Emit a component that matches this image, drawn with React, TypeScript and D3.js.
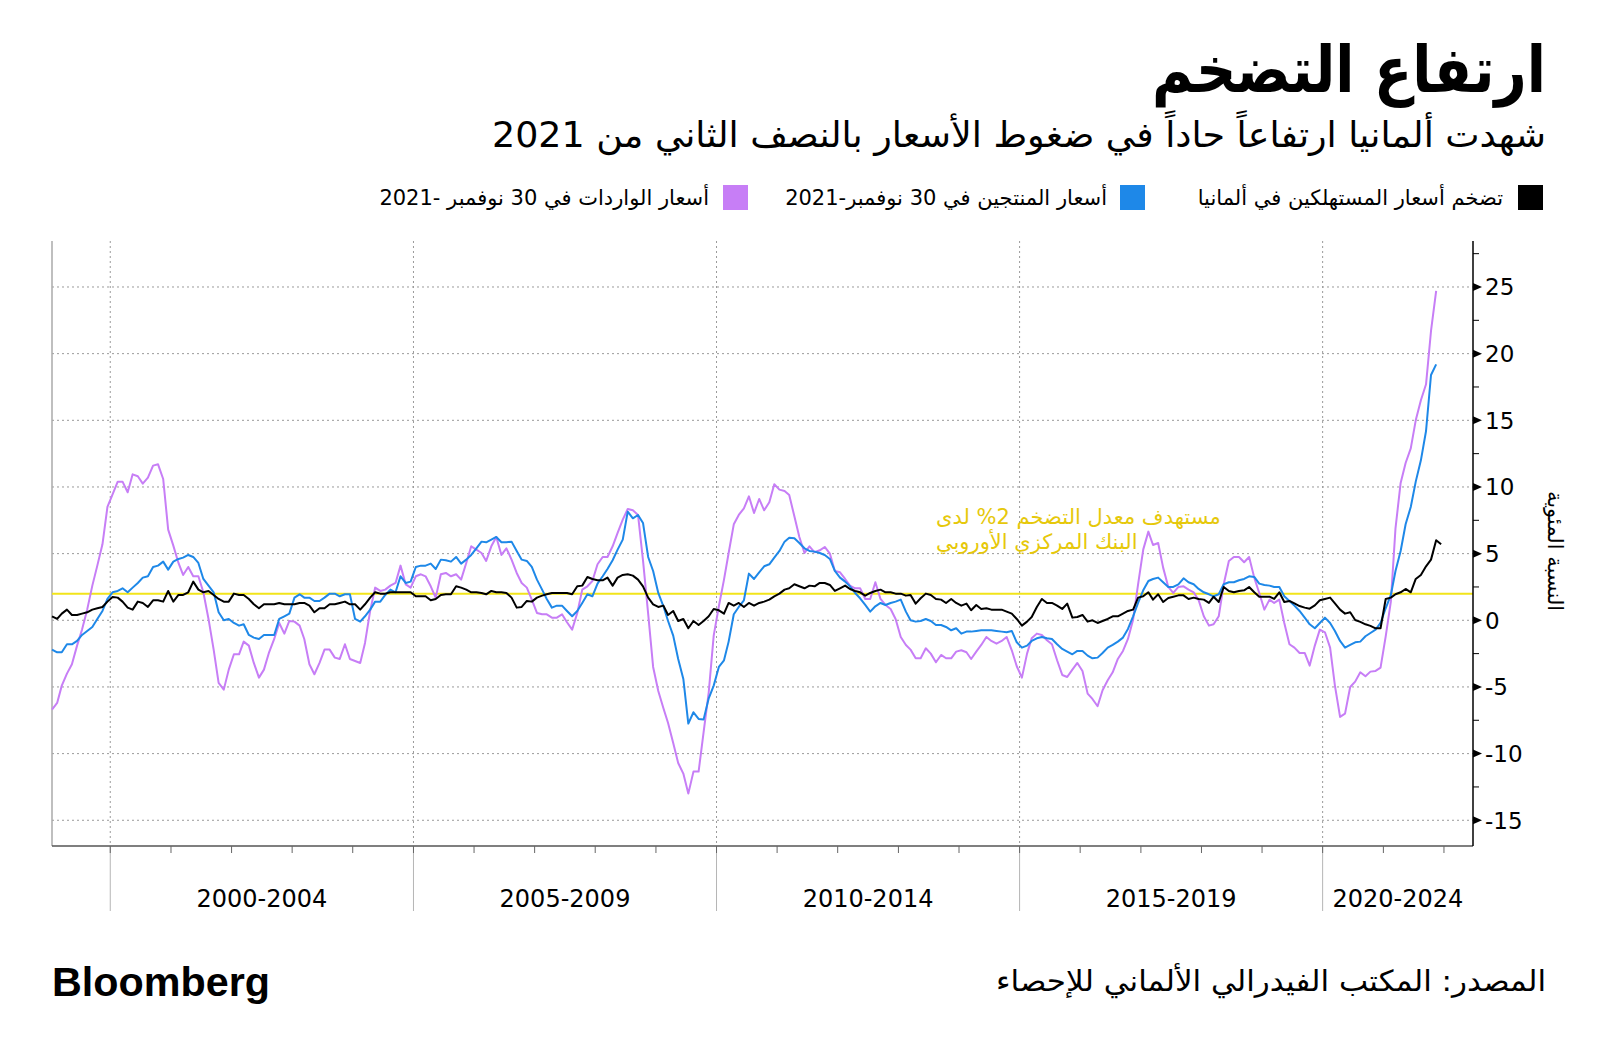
import React from 'react';
import * as d3 from 'd3';

// ---------- DATA (monthly, y/y %, starting January 1999) ----------
const START_YEAR = 1999;

// German consumer price inflation (black)
const consumerPrices = [
  0.3, 0.1, 0.5, 0.8, 0.4, 0.4, 0.5, 0.6, 0.8, 0.9, 1.0, 1.4,
  1.75, 1.7, 1.4, 0.95, 0.8, 1.4, 1.3, 1.0, 1.5, 1.5, 1.4, 2.2,
  1.4, 1.9, 1.9, 2.1, 2.9, 2.3, 2.1, 2.2, 1.9, 1.6, 1.4, 1.4,
  2.0, 1.9, 1.9, 1.6, 1.2, 0.9, 1.2, 1.2, 1.2, 1.3, 1.2, 1.2,
  1.2, 1.3, 1.3, 1.1, 0.6, 0.9, 0.9, 1.2, 1.2, 1.3, 1.4, 1.2,
  1.2, 0.8, 1.2, 1.7, 2.1, 2.0, 2.0, 2.1, 2.1, 2.1, 2.1, 2.1,
  1.8, 1.8, 1.8, 1.5, 1.6, 1.9, 1.95, 1.95, 2.55, 2.45, 2.3, 2.1,
  2.1, 2.05, 1.95, 2.2, 2.1, 2.1, 2.05, 1.7, 0.95, 1.0, 1.45, 1.4,
  1.7, 1.85, 1.95, 2.05, 2.05, 2.05, 2.05, 1.95, 2.55, 2.6, 3.25, 3.1,
  3.0, 3.0, 3.2, 2.6, 3.2, 3.4, 3.45, 3.35, 3.05, 2.55, 1.7, 1.2,
  1.0, 1.1, 0.4, 0.7, -0.05, 0.1, -0.6, -0.05, -0.35, -0.05, 0.3, 0.85,
  0.75, 0.5, 1.3, 1.1, 1.3, 1.0, 1.3, 1.1, 1.3, 1.4, 1.55, 1.8,
  2.0, 2.3, 2.4, 2.7, 2.55, 2.4, 2.6, 2.55, 2.8, 2.8, 2.65, 2.2,
  2.4, 2.6, 2.35, 2.2, 2.1, 1.85, 2.05, 2.2, 2.3, 2.1, 2.1, 2.0,
  2.0, 1.85, 1.9, 1.25, 1.65, 2.0, 1.9, 1.6, 1.55, 1.3, 1.6, 1.3,
  1.1, 1.25, 0.75, 1.15, 0.85, 0.9, 0.8, 0.8, 0.8, 0.65, 0.5, 0.1,
  -0.4, -0.1, 0.25, 1.0, 1.6, 1.3, 1.3, 1.1, 0.85, 1.25, 0.2, 0.25,
  0.4, -0.1, 0.0, -0.2, -0.05, 0.1, 0.3, 0.3, 0.5, 0.7, 0.8, 1.7,
  1.8, 2.1, 1.55, 1.95, 1.37, 1.67, 1.77, 1.87, 1.87, 1.6, 1.7, 1.6,
  1.55, 1.3, 1.77, 1.37, 2.5, 2.2, 2.1, 2.2, 2.25, 2.5, 2.1, 1.77,
  1.77, 1.77, 1.6, 2.1, 1.37, 1.45, 1.27, 1.07, 0.95, 0.87, 1.12, 1.5,
  1.6, 1.7, 1.27, 0.8, 0.5, 0.6, 0.02, -0.12, -0.3, -0.42, -0.6, -0.6,
  1.6, 1.7, 1.95, 2.1, 2.35, 2.1, 3.1, 3.4, 4.05, 4.55, 6.0, 5.7,
];

// Producer prices (blue)
const producerPrices = [
  -2.2, -2.4, -2.4, -1.8, -1.8, -1.55, -1.1, -0.8, -0.5, 0.1, 0.7, 1.6,
  2.1, 2.2, 2.4, 2.1, 2.45, 2.8, 3.2, 3.3, 4.0, 4.1, 4.4, 3.8,
  4.4, 4.6, 4.7, 4.9, 4.75, 4.3, 3.1, 2.6, 2.1, 0.6, 0.0, 0.1,
  -0.2, -0.4, -0.3, -1.1, -1.3, -1.4, -1.1, -1.1, -1.1, 0.1, 0.3, 0.5,
  1.7, 1.95, 1.7, 1.7, 1.45, 1.45, 1.7, 2.0, 2.0, 1.8, 1.95, 1.95,
  0.1, -0.1, 0.3, 0.8, 1.4, 1.4, 1.9, 2.3, 2.1, 3.3, 2.8, 2.9,
  4.0, 4.1, 4.1, 4.25, 3.85, 4.55, 4.5, 4.4, 4.75, 4.25, 4.55, 4.9,
  5.4, 5.9, 5.85, 6.05, 6.25, 5.85, 5.85, 5.9, 5.2, 4.55, 4.45, 4.0,
  3.05, 2.3, 1.6, 0.95, 1.1, 1.1, 0.7, 0.3, 0.7, 1.3, 1.95, 1.8,
  2.75, 3.3, 3.85, 4.5, 5.3, 6.05, 8.15, 7.65, 7.9, 7.3, 4.75, 3.7,
  2.05, 1.05, -0.05, -1.15, -2.9, -4.4, -7.75, -6.9, -7.4, -7.45, -5.85, -4.9,
  -3.5, -3.0, -1.6, 0.45, 1.0, 1.5, 3.5, 3.1, 3.6, 4.05, 4.2, 4.7,
  5.2, 5.9, 6.2, 6.15, 5.8, 5.4, 5.2, 5.15, 5.05, 4.9, 4.6, 3.7,
  3.2, 2.9, 2.55, 2.05, 1.65, 1.15, 0.65, 1.05, 1.3, 1.15, 1.3, 1.4,
  1.55, 0.65, 0.0, -0.1, -0.05, 0.1, -0.05, -0.35, -0.35, -0.5, -0.75, -0.6,
  -1.0, -0.85, -0.85, -0.8, -0.75, -0.75, -0.75, -0.8, -0.85, -0.9, -0.8, -1.65,
  -2.05, -1.9, -1.55, -1.35, -1.25, -1.35, -1.4, -1.8, -2.15, -2.35, -2.55, -2.3,
  -2.3, -2.65, -2.85, -2.8, -2.45, -2.05, -1.85, -1.6, -1.3, -0.65, 0.3, 1.3,
  2.25, 2.95, 3.1, 3.2, 2.85, 2.5, 2.5, 2.7, 3.15, 2.85, 2.7, 2.35,
  2.1, 1.95, 1.8, 1.95, 2.7, 2.85, 2.85, 3.0, 3.1, 3.3, 3.25, 2.75,
  2.65, 2.6, 2.5, 2.5, 1.8, 1.45, 1.1, 0.7, 0.2, -0.3, -0.6, -0.2,
  0.2, -0.2, -0.8, -1.55, -2.05, -1.85, -1.65, -1.6, -1.2, -0.95, -0.7, -0.2,
  0.9, 1.9, 3.7, 5.2, 7.2, 8.5, 10.4, 12.0, 14.2, 18.4, 19.2,
];

// Import prices (purple)
const importPrices = [
  -6.7, -6.2, -4.9, -4.0, -3.3, -1.9, -0.7, 0.8, 2.6, 4.1, 5.7, 8.5,
  9.45, 10.4, 10.4, 9.6, 10.95, 10.8, 10.25, 10.7, 11.6, 11.7, 10.6, 6.8,
  5.6, 4.3, 3.4, 4.0, 3.3, 3.3, 2.1, 0.1, -2.2, -4.7, -5.2, -3.7,
  -2.55, -2.55, -1.6, -1.9, -3.2, -4.3, -3.7, -2.4, -1.4, -0.2, -1.0, -0.05,
  -0.1, -0.4, -1.4, -3.3, -4.05, -3.2, -2.2, -2.2, -2.8, -2.9, -1.8, -2.9,
  -3.05, -3.2, -1.7, 0.7, 2.45, 2.2, 2.3, 2.6, 2.8, 4.1, 2.7, 2.45,
  3.3, 3.45, 3.3, 2.55, 1.7, 3.45, 3.55, 3.3, 3.45, 3.05, 4.3, 5.55,
  5.3, 5.05, 4.45, 5.55, 6.25, 4.9, 5.4, 4.55, 3.55, 2.8, 2.45, 1.55,
  0.55, 0.45, 0.45, 0.2, 0.2, 0.45, -0.15, -0.7, 0.55, 2.3, 2.55, 2.95,
  4.2, 4.75, 4.75, 5.55, 6.55, 7.55, 8.35, 8.25, 7.9, 4.5, 0.5, -3.5,
  -5.3, -6.6, -7.7, -9.2, -10.7, -11.5, -13.0, -11.35, -11.35, -8.4, -5.4, -1.15,
  1.05, 3.05, 5.05, 7.2, 7.9, 8.4, 9.3, 8.05, 9.1, 8.25, 8.85, 10.2,
  9.8, 9.7, 9.4, 7.8, 6.25, 5.05, 5.55, 5.1, 5.25, 5.5, 5.0, 3.7,
  3.6, 3.1, 2.6, 2.4, 2.4, 1.6, 1.6, 2.85, 1.6, 1.15, 0.85, 0.1,
  -1.25, -1.85, -2.2, -2.85, -2.85, -2.1, -2.5, -3.15, -2.6, -2.85, -2.85, -2.35,
  -2.25, -2.4, -2.9, -2.35, -1.85, -1.25, -1.55, -1.75, -1.55, -1.25, -2.25, -3.45,
  -4.3, -2.5, -1.35, -1.0, -1.1, -1.5, -1.8, -3.0, -4.1, -4.25, -3.7, -3.2,
  -3.8, -5.5, -5.9, -6.45, -5.25, -4.5, -3.9, -2.9, -2.3, -1.4, 0.05, 2.7,
  5.3, 6.65, 5.65, 5.8, 3.95, 2.5, 2.05, 2.5, 2.55, 2.3, 2.1, 1.5,
  0.3, -0.4, -0.3, 0.3, 2.7, 4.45, 4.75, 4.75, 4.35, 4.75, 3.2, 2.05,
  0.8, 1.55, 1.3, 1.55, -0.2, -1.8, -2.05, -2.45, -2.45, -3.4, -1.9, -0.7,
  -0.9, -2.05, -4.9, -7.25, -7.0, -5.0, -4.6, -3.9, -4.2, -3.85, -3.8, -3.55,
  -1.2, 1.4, 6.9, 10.3, 11.8, 12.9, 15.0, 16.5, 17.7, 21.7, 24.7,
];

const yTickValues = [-15, -10, -5, 0, 5, 10, 15, 20, 25];
const gridYears = [2000, 2005, 2010, 2015, 2020];
const periodLabels = ['2000-2004', '2005-2009', '2010-2014', '2015-2019', '2020-2024'];
const ecbTarget = 2;

const titleText = 'ارتفاع التضخم';
const subtitleText = 'شهدت ألمانيا ارتفاعاً حاداً في ضغوط الأسعار بالنصف الثاني من 2021';
const legendLabels = [
  'تضخم أسعار المستهلكين في ألمانيا',
  'أسعار المنتجين في 30 نوفمبر-2021',
  'أسعار الواردات في 30 نوفمبر -2021',
];
const annotationLines = ['مستهدف معدل التضخم 2% لدى', 'البنك المركزي الأوروبي'];
const yAxisTitle = 'النسبة المئوية';
const sourceText = 'المصدر: المكتب الفيدرالي الألماني للإحصاء';

const COLORS = {
  cpi: '#000000',
  ppi: '#1e88e8',
  imp: '#c77ef6',
  target: '#f2e41a',
  targetText: '#e6c80a',
  grid: '#9a9a9a',
};

const AR_FONT = '"DejaVu Sans", sans-serif';
const NUM_FONT = '"DejaVu Sans", sans-serif';

const monthDate = (i: number) => new Date(START_YEAR, i, 15);

export default function App() {
  const W = 1600;
  const H = 1064;
  const left = 52;
  const right = 1473;
  const top = 241;
  const bottom = 846;

  const x = d3
    .scaleTime()
    .domain([new Date(1999, 0, 15), new Date(2022, 5, 25)])
    .range([left, right]);
  const y = d3.scaleLinear().domain([-16.93, 28.45]).range([bottom, top]);

  const line = d3
    .line<number>()
    .x((_, i) => x(monthDate(i)))
    .y((d) => y(d));

  const gridX = gridYears.map((yr) => x(new Date(yr, 0, 1)));
  const yearTicks = d3.range(2000, 2023).map((yr) => x(new Date(yr, 0, 1)));
  const minorY = d3.range(-15, 28.5, 2.5).filter((v) => !yTickValues.includes(v));
  const labelCenters = gridX.map((gx, i) => {
    const next = i < gridX.length - 1 ? gridX[i + 1] : right;
    return (gx + next) / 2;
  });

  const legendItems = [
    { color: COLORS.cpi, label: legendLabels[0], sq: 1518, tx: 1503 },
    { color: COLORS.ppi, label: legendLabels[1], sq: 1120, tx: 1107 },
    { color: COLORS.imp, label: legendLabels[2], sq: 723, tx: 709 },
  ];

  return (
    <svg
      width={W}
      height={H}
      viewBox={`0 0 ${W} ${H}`}
      style={{ position: 'absolute', left: 0, top: 0, background: '#fff' }}
    >
      <rect x={0} y={0} width={W} height={H} fill="#fff" />

      {/* Title & subtitle */}
      <g transform="translate(1546, 92) scale(0.875, 1)">
        <text
          x={0}
          y={0}
          direction="rtl"
          textAnchor="start"
          fontFamily={AR_FONT}
          fontWeight="bold"
          fontSize={64}
          fill="#000"
        >
          {titleText}
        </text>
      </g>
      <text
        x={1546}
        y={147}
        direction="rtl"
        textAnchor="start"
        fontFamily={AR_FONT}
        fontSize={35}
        textLength={1054}
        lengthAdjust="spacingAndGlyphs"
        fill="#000"
      >
        {subtitleText}
      </text>

      {/* Legend */}
      {legendItems.map((it, i) => (
        <g key={i}>
          <rect x={it.sq} y={185} width={25} height={25} fill={it.color} />
          <text
            x={it.tx}
            y={205}
            direction="rtl"
            textAnchor="start"
            fontFamily={AR_FONT}
            fontSize={21}
            fill="#000"
          >
            {it.label}
          </text>
        </g>
      ))}

      {/* Horizontal grid */}
      {yTickValues.map((v) => (
        <line
          key={'hg' + v}
          x1={left}
          x2={right}
          y1={y(v)}
          y2={y(v)}
          stroke={COLORS.grid}
          strokeWidth={1}
          strokeDasharray="2,3"
        />
      ))}

      {/* Vertical grid */}
      {gridX.map((gx, i) => (
        <g key={'vg' + i}>
          <line x1={gx} x2={gx} y1={top} y2={bottom} stroke={COLORS.grid} strokeWidth={1} strokeDasharray="2,3" />
          <line x1={gx} x2={gx} y1={bottom} y2={911} stroke="#b5b5b5" strokeWidth={1} />
        </g>
      ))}

      {/* Left border */}
      <line x1={left} x2={left} y1={top} y2={bottom} stroke="#aaa" strokeWidth={1.5} />

      {/* Bottom axis */}
      <line x1={left} x2={right} y1={bottom} y2={bottom} stroke="#555" strokeWidth={1.5} />
      {yearTicks.map((tx, i) => (
        <line key={'xt' + i} x1={tx} x2={tx} y1={bottom} y2={bottom + 7} stroke="#666" strokeWidth={1} />
      ))}

      {/* ECB target line */}
      <line x1={left} x2={right} y1={y(ecbTarget)} y2={y(ecbTarget)} stroke={COLORS.target} strokeWidth={2} />

      {/* Series */}
      <path d={line(importPrices) || ''} fill="none" stroke={COLORS.imp} strokeWidth={2} strokeLinejoin="round" />
      <path d={line(producerPrices) || ''} fill="none" stroke={COLORS.ppi} strokeWidth={2} strokeLinejoin="round" />
      <path d={line(consumerPrices) || ''} fill="none" stroke={COLORS.cpi} strokeWidth={2} strokeLinejoin="round" />

      {/* Annotation */}
      {annotationLines.map((t, i) => (
        <text
          key={'an' + i}
          x={936}
          y={524 + i * 25}
          direction="rtl"
          textAnchor="end"
          fontFamily={AR_FONT}
          fontSize={21}
          fill={COLORS.targetText}
        >
          {t}
        </text>
      ))}

      {/* Right axis */}
      <line x1={right} x2={right} y1={top} y2={bottom} stroke="#000" strokeWidth={1.5} />
      {minorY.map((v) => (
        <line key={'my' + v} x1={right} x2={right + 6} y1={y(v)} y2={y(v)} stroke="#000" strokeWidth={1} />
      ))}
      {yTickValues.map((v) => (
        <g key={'yt' + v}>
          <path d={`M${right},${y(v) - 4}L${right + 9},${y(v)}L${right},${y(v) + 4}Z`} fill="#000" />
          <text
            x={right + 12}
            y={y(v)}
            dy="0.36em"
            fontFamily={NUM_FONT}
            fontSize={23}
            fill="#000"
          >
            {v}
          </text>
        </g>
      ))}
      <text
        transform={`translate(1548, 551) rotate(90)`}
        textAnchor="middle"
        fontFamily={AR_FONT}
        fontSize={21}
        fill="#000"
      >
        {yAxisTitle}
      </text>

      {/* X period labels */}
      {periodLabels.map((lbl, i) => (
        <text
          key={'pl' + i}
          x={labelCenters[i]}
          y={907}
          textAnchor="middle"
          fontFamily={NUM_FONT}
          fontSize={24}
          fill="#000"
        >
          {lbl}
        </text>
      ))}

      {/* Footer */}
      <text
        x={52}
        y={996}
        fontFamily='"Liberation Sans", Arial, sans-serif'
        fontWeight="bold"
        fontSize={40}
        textLength={218}
        lengthAdjust="spacingAndGlyphs"
        fill="#000"
      >
        Bloomberg
      </text>
      <text
        x={1546}
        y={991}
        direction="rtl"
        textAnchor="start"
        fontFamily={AR_FONT}
        fontSize={29}
        textLength={550}
        lengthAdjust="spacingAndGlyphs"
        fill="#000"
      >
        {sourceText}
      </text>
    </svg>
  );
}
